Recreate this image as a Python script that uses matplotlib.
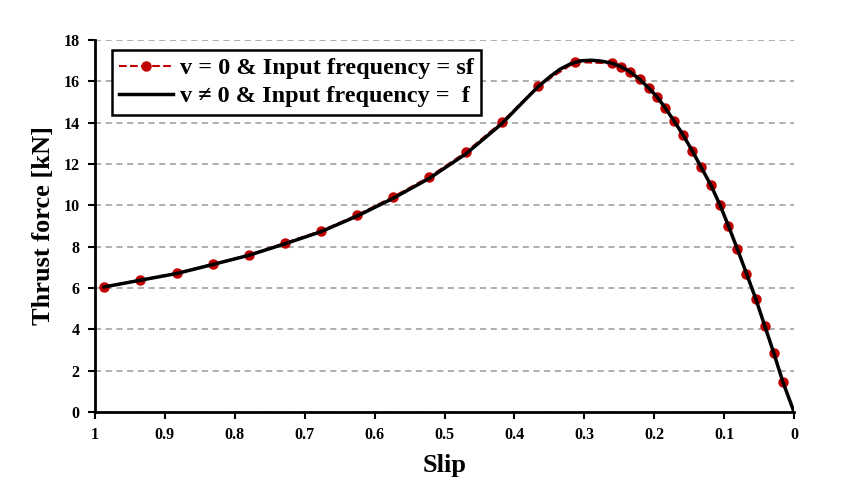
import matplotlib
matplotlib.use("Agg")
import matplotlib.pyplot as plt

# points: v = 0, input frequency = sf
slip_pts = [0.987, 0.936, 0.883, 0.831, 0.780, 0.728, 0.677, 0.625, 0.574, 0.522,
            0.469, 0.418, 0.366, 0.313, 0.261, 0.247, 0.235, 0.221, 0.208, 0.196,
            0.184, 0.172, 0.159, 0.146, 0.133, 0.119, 0.106, 0.094, 0.081, 0.068,
            0.055, 0.042, 0.029, 0.016]
force_pts = [6.05, 6.39, 6.72, 7.16, 7.60, 8.18, 8.76, 9.53, 10.40, 11.37,
             12.58, 14.03, 15.77, 16.93, 16.87, 16.68, 16.46, 16.09, 15.66, 15.25,
             14.69, 14.08, 13.40, 12.64, 11.84, 10.97, 10.00, 9.00, 7.87, 6.68,
             5.48, 4.16, 2.84, 1.44]

# line: v != 0, input frequency = f
slip_line = [0.987, 0.936, 0.883, 0.831, 0.780, 0.728, 0.677, 0.625, 0.574, 0.522,
             0.469, 0.418, 0.390, 0.366, 0.350, 0.335, 0.320, 0.305, 0.290, 0.275,
             0.261, 0.247, 0.235, 0.221, 0.208, 0.196, 0.184, 0.172, 0.159, 0.146,
             0.133, 0.119, 0.106, 0.094, 0.081, 0.068, 0.055, 0.042, 0.029, 0.016, 0.0]
force_line = [6.05, 6.37, 6.70, 7.14, 7.58, 8.14, 8.72, 9.48, 10.33, 11.30,
              12.50, 13.95, 14.92, 15.74, 16.20, 16.58, 16.84, 16.99, 17.02, 16.97,
              16.88, 16.70, 16.47, 16.10, 15.68, 15.25, 14.70, 14.10, 13.42, 12.66,
              11.85, 10.98, 10.02, 9.02, 7.88, 6.70, 5.50, 4.18, 2.86, 1.46, 0.0]

x_ticks = [1, 0.9, 0.8, 0.7, 0.6, 0.5, 0.4, 0.3, 0.2, 0.1, 0]
x_tick_labels = ["1", "0.9", "0.8", "0.7", "0.6", "0.5", "0.4", "0.3", "0.2", "0.1", "0"]
y_ticks = list(range(0, 19, 2))

plt.rcParams["font.family"] = ["Liberation Serif", "DejaVu Serif"]
plt.rcParams["font.weight"] = "bold"

fig = plt.figure(figsize=(8.56, 4.87), dpi=100)
ax = fig.add_axes([0.111, 0.154, 0.8166, 0.764])

ax.plot(slip_pts, force_pts, linestyle="--", color="#C00000", marker="o",
        markersize=6.5, linewidth=1.5, label="v = 0 & Input frequency = sf", zorder=3)
ax.plot(slip_line, force_line, color="black", linewidth=2.5,
        label="v \u2260 0 & Input frequency =  f", zorder=4)

ax.set_xlim(1, 0)
ax.set_ylim(0, 18)
ax.set_xticks(x_ticks)
ax.set_xticklabels(x_tick_labels)
ax.set_yticks(y_ticks)
ax.tick_params(axis="both", labelsize=11.5, width=1.5, length=5, direction="out", pad=6)
for lab in ax.get_xticklabels() + ax.get_yticklabels():
    lab.set_fontweight("bold")

ax.yaxis.grid(True, linestyle=(0, (4, 3)), color="#999999", linewidth=1.1)
ax.set_axisbelow(True)
for s in ["top", "right"]:
    ax.spines[s].set_visible(False)
for s in ["left", "bottom"]:
    ax.spines[s].set_linewidth(2)

ax.set_xlabel("Slip", fontsize=19, fontweight="bold", labelpad=8)
ax.set_ylabel("Thrust force [kN]", fontsize=19, fontweight="bold", labelpad=6)

leg = ax.legend(loc="upper left", bbox_to_anchor=(0.024, 0.973), borderaxespad=0,
                fontsize=17.5, frameon=True, fancybox=False, edgecolor="black",
                framealpha=1, handlelength=2.2, handletextpad=0.3, borderpad=0.3,
                labelspacing=0.25)
leg.get_frame().set_linewidth(1.8)
for t in leg.get_texts():
    t.set_fontweight("bold")

fig.savefig("out.png", dpi=100)
